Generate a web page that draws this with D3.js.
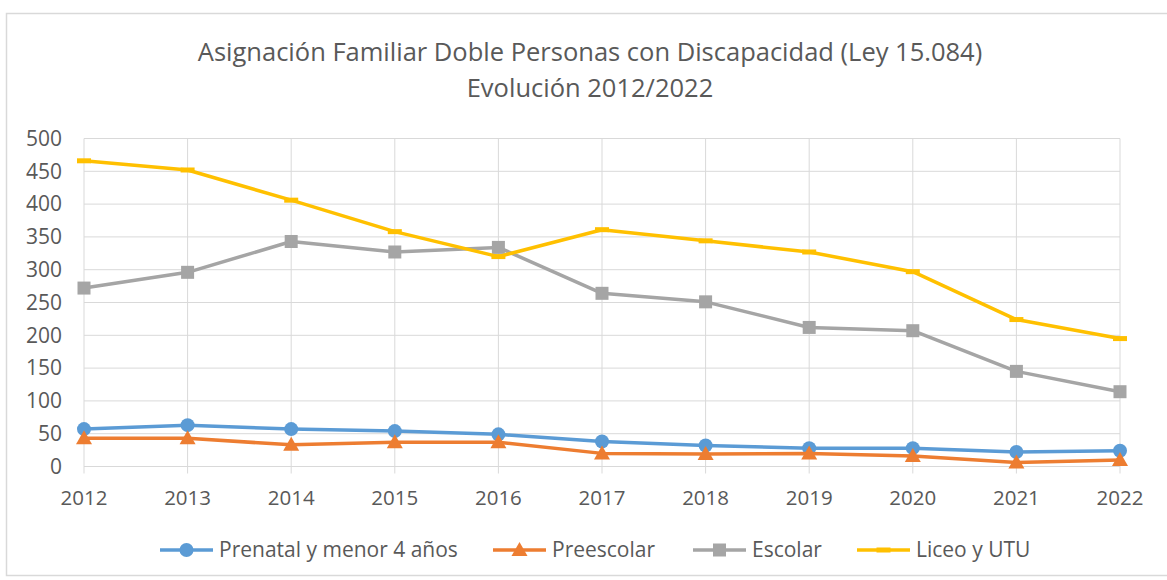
<!DOCTYPE html>
<html>
<head>
<meta charset="utf-8">
<script src="https://cdn.jsdelivr.net/npm/d3@7"></script>
<style>
  body { margin: 0; background: #fff; }
  text { font-family: 'Open Sans', sans-serif; fill: #595959; }
</style>
</head>
<body>
<script>
const years = [2012, 2013, 2014, 2015, 2016, 2017, 2018, 2019, 2020, 2021, 2022]
const prenatal = [57, 63, 57, 54, 49, 38, 32, 28, 28, 22, 24]
const preescolar = [43, 43, 33, 37, 37, 20, 19, 20, 16, 6, 10]
const escolar = [272, 296, 343, 327, 334, 264, 251, 212, 207, 145, 114]
const liceo = [466, 452, 406, 358, 320, 361, 344, 327, 297, 224, 195]
const yTicks = [0, 50, 100, 150, 200, 250, 300, 350, 400, 450, 500]
const seriesNames = ['Prenatal y menor 4 años', 'Preescolar', 'Escolar', 'Liceo y UTU']
const titleLines = ['Asignación Familiar Doble Personas con Discapacidad (Ley 15.084)', 'Evolución 2012/2022']

const width = 1167, height = 580
const svg = d3.select('body').append('svg')
    .attr('width', width)
    .attr('height', height)

// chart border
svg.append('rect')
    .attr('x', 6.5).attr('y', 13.5)
    .attr('width', 1180).attr('height', 562)
    .attr('fill', 'none')
    .attr('stroke', '#d9d9d9')
    .attr('stroke-width', 1.5)

const x = d3.scaleLinear().domain([2012, 2022]).range([84, 1120])
const y = d3.scaleLinear().domain([0, 500]).range([466.5, 138.5])

// gridlines
svg.append('g').selectAll('line.h')
    .data(yTicks).enter().append('line')
    .attr('x1', 84).attr('x2', 1120)
    .attr('y1', d => y(d)).attr('y2', d => y(d))
    .attr('stroke', '#d9d9d9').attr('stroke-width', 1)
svg.append('g').selectAll('line.v')
    .data(years).enter().append('line')
    .attr('x1', d => x(d)).attr('x2', d => x(d))
    .attr('y1', y(500)).attr('y2', y(0) + 7)
    .attr('stroke', '#d9d9d9').attr('stroke-width', 1)

// axis labels
svg.append('g').selectAll('text')
    .data(yTicks).enter().append('text')
    .attr('x', 62).attr('y', d => y(d))
    .attr('dy', '0.35em')
    .attr('text-anchor', 'end')
    .style('font-size', '21px')
    .text(d => d)
svg.append('g').selectAll('text')
    .data(years).enter().append('text')
    .attr('x', d => x(d)).attr('y', 505)
    .attr('text-anchor', 'middle')
    .style('font-size', '20.5px')
    .text(d => d)

// title
svg.append('g').selectAll('text')
    .data(titleLines).enter().append('text')
    .attr('x', 590).attr('y', (d, i) => 61 + i * 36)
    .attr('text-anchor', 'middle')
    .style('font-size', '25.5px')
    .text(d => d)

const colors = ['#5b9bd5', '#ed7d31', '#a5a5a5', '#ffc000']
const shapes = ['circle', 'triangle', 'square', 'dash']
const allSeries = [prenatal, preescolar, escolar, liceo]

const line = d3.line().x((d, i) => x(years[i])).y(d => y(d))

function drawMarker(g, shape, color, cx, cy) {
    if (shape === 'circle') {
        g.append('circle').attr('cx', cx).attr('cy', cy).attr('r', 7).attr('fill', color)
    } else if (shape === 'square') {
        g.append('rect').attr('x', cx - 6.5).attr('y', cy - 6.5).attr('width', 13).attr('height', 13).attr('fill', color)
    } else if (shape === 'triangle') {
        g.append('path').attr('d', `M${cx},${cy - 8}L${cx + 8},${cy + 6}L${cx - 8},${cy + 6}Z`).attr('fill', color)
    } else {
        g.append('rect').attr('x', cx - 7).attr('y', cy - 2.5).attr('width', 14).attr('height', 5).attr('fill', color)
    }
}

allSeries.forEach((s, k) => {
    const g = svg.append('g')
    g.append('path')
        .attr('d', line(s))
        .attr('fill', 'none')
        .attr('stroke', colors[k])
        .attr('stroke-width', 3.5)
        .attr('stroke-linejoin', 'round')
    s.forEach((v, i) => drawMarker(g, shapes[k], colors[k], x(years[i]), y(v)))
})

// legend
const legendX = [160, 493, 693, 857]
seriesNames.forEach((name, k) => {
    const g = svg.append('g')
    g.append('line')
        .attr('x1', legendX[k]).attr('x2', legendX[k] + 53)
        .attr('y1', 550).attr('y2', 550)
        .attr('stroke', colors[k]).attr('stroke-width', 3.5)
    drawMarker(g, shapes[k], colors[k], legendX[k] + 26.5, 550)
    g.append('text')
        .attr('x', legendX[k] + 59).attr('y', 550)
        .attr('dy', '0.35em')
        .style('font-size', '21px')
        .text(name)
})
</script>
</body>
</html>
